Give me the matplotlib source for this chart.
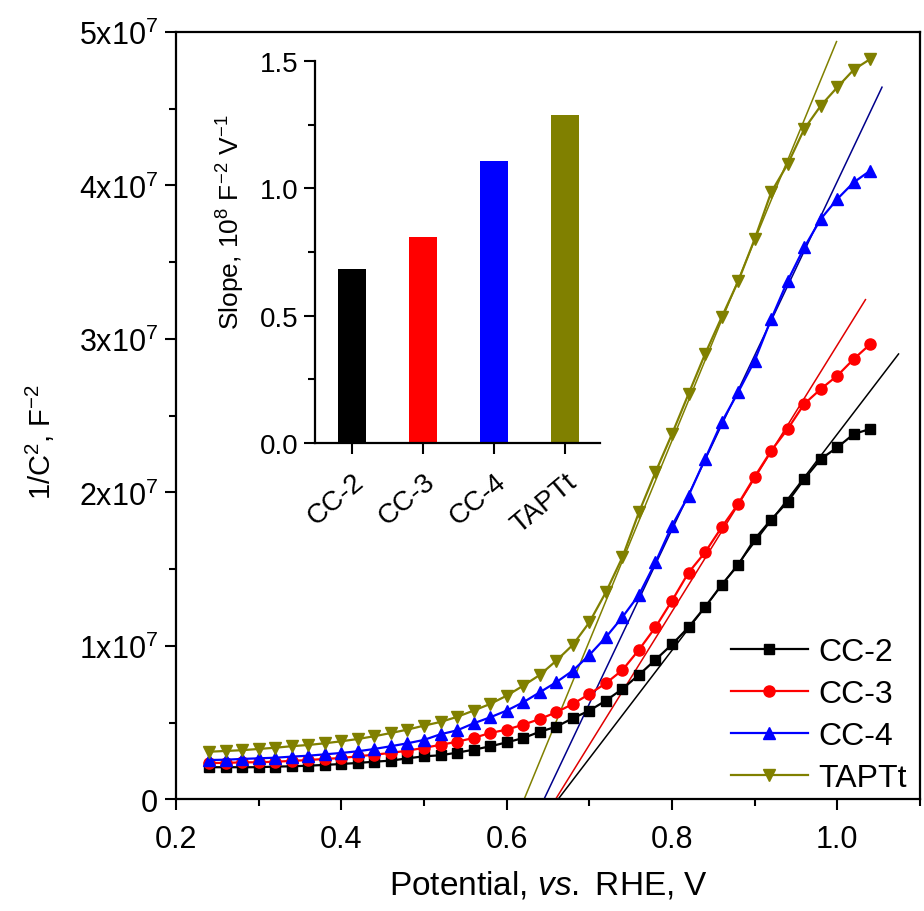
import numpy as np
import matplotlib
matplotlib.use("Agg")
import matplotlib.pyplot as plt
from matplotlib.ticker import MultipleLocator

plt.rcParams['font.family'] = ['Liberation Sans', 'DejaVu Sans']
plt.rcParams['mathtext.fontset'] = 'custom'
plt.rcParams['mathtext.rm'] = 'Liberation Sans'
plt.rcParams['mathtext.it'] = 'Liberation Sans:italic'
plt.rcParams['mathtext.bf'] = 'Liberation Sans:bold'

# ---------------- data ----------------
potential = [0.24, 0.26, 0.28, 0.30, 0.32, 0.34, 0.36, 0.38, 0.40, 0.42,
             0.44, 0.46, 0.48, 0.50, 0.52, 0.54, 0.56, 0.58, 0.60, 0.62,
             0.64, 0.66, 0.68, 0.70, 0.72, 0.74, 0.76, 0.78, 0.80, 0.82,
             0.84, 0.86, 0.88, 0.90, 0.92, 0.94, 0.96, 0.98, 1.00, 1.02, 1.04]

# 1/C^2 in units of 1e7 F^-2
cc2 = [0.210, 0.210, 0.210, 0.210, 0.214, 0.216, 0.220, 0.225, 0.231, 0.238,
       0.246, 0.253, 0.268, 0.281, 0.288, 0.305, 0.324, 0.346, 0.372, 0.400,
       0.441, 0.474, 0.529, 0.579, 0.644, 0.720, 0.812, 0.910, 1.010, 1.122,
       1.254, 1.398, 1.528, 1.697, 1.823, 1.940, 2.088, 2.218, 2.294, 2.381, 2.414]
cc3 = [0.238, 0.238, 0.242, 0.242, 0.246, 0.251, 0.257, 0.264, 0.270, 0.281,
       0.292, 0.303, 0.318, 0.336, 0.356, 0.376, 0.401, 0.433, 0.455, 0.487,
       0.524, 0.568, 0.622, 0.687, 0.757, 0.843, 0.975, 1.122, 1.295, 1.478,
       1.610, 1.773, 1.925, 2.103, 2.272, 2.414, 2.577, 2.674, 2.761, 2.870, 2.967]
cc4 = [0.257, 0.259, 0.264, 0.268, 0.272, 0.279, 0.285, 0.294, 0.303, 0.314,
       0.329, 0.347, 0.366, 0.388, 0.425, 0.450, 0.496, 0.535, 0.579, 0.633,
       0.698, 0.764, 0.839, 0.941, 1.057, 1.188, 1.333, 1.545, 1.784, 1.979,
       2.218, 2.457, 2.653, 2.859, 3.130, 3.380, 3.597, 3.782, 3.912, 4.021, 4.097]
taptt = [0.311, 0.316, 0.321, 0.329, 0.337, 0.347, 0.355, 0.366, 0.379, 0.394,
         0.412, 0.433, 0.455, 0.481, 0.505, 0.538, 0.579, 0.622, 0.676, 0.741,
         0.811, 0.904, 1.007, 1.154, 1.350, 1.578, 1.871, 2.132, 2.381, 2.642,
         2.902, 3.141, 3.375, 3.651, 3.956, 4.140, 4.368, 4.520, 4.640, 4.755, 4.824]

series_names = ['CC-2', 'CC-3', 'CC-4', 'TAPTt']
series_colors = ['#000000', '#ff0000', '#0000ff', '#808000']
series_markers = ['s', 'o', '^', 'v']

# linear Mott-Schottky fits: x-intercept, end x, end y (1e7)
fit_x0 = [0.662, 0.659, 0.645, 0.621]
fit_x1 = [1.074, 1.034, 1.054, 0.999]
fit_y1 = [2.902, 3.256, 4.640, 4.937]
fit_colors = ['#000000', '#e00000', '#00008b', '#808000']

# inset: slopes, 1e8 F^-2 V^-1
slope_values = [0.682, 0.810, 1.106, 1.286]

y_ticks = [0, 1, 2, 3, 4, 5]
y_tick_labels = ['0', r'1x10$^{7}$', r'2x10$^{7}$', r'3x10$^{7}$', r'4x10$^{7}$', r'5x10$^{7}$']
x_ticks = [0.2, 0.4, 0.6, 0.8, 1.0]
x_tick_labels = ['0.2', '0.4', '0.6', '0.8', '1.0']

# ---------------- figure ----------------
fig = plt.figure(figsize=(9.24, 9.12), dpi=100)
ax = fig.add_axes([0.1905, 0.1223, 0.8052, 0.8416])

all_series = [cc2, cc3, cc4, taptt]
for i in range(4):
    ax.plot([fit_x0[i], fit_x1[i]], [0, fit_y1[i]], color=fit_colors[i], lw=1.1, zorder=2)
msizes = [7, 8, 9, 9]
for i, ys in enumerate(all_series):
    ax.plot(potential, ys, color=series_colors[i], marker=series_markers[i],
            ms=msizes[i], lw=1.6, label=series_names[i], zorder=3)

ax.set_xlim(0.2, 1.1)
ax.set_ylim(0, 5)
ax.set_xticks(x_ticks)
ax.set_xticklabels(x_tick_labels)
ax.set_yticks(y_ticks)
ax.set_yticklabels(y_tick_labels)
ax.xaxis.set_minor_locator(MultipleLocator(0.1))
ax.yaxis.set_minor_locator(MultipleLocator(0.5))
ax.tick_params(which='major', direction='out', length=8, width=1.5, labelsize=22, pad=5)
ax.tick_params(axis='x', pad=10)
ax.tick_params(which='minor', direction='out', length=5, width=1.5)
for s in ax.spines.values():
    s.set_linewidth(1.6)

ax.set_xlabel(r'Potential, $\mathit{vs.}$ RHE, V', fontsize=24, labelpad=10)
ax.set_ylabel(r'1/C$^{2}$, F$^{-2}$', fontsize=21)
ax.yaxis.set_label_coords(-0.16, 0.467)

leg = ax.legend(loc='lower right', frameon=False, fontsize=23, handlelength=2.4,
                handletextpad=0.35, labelspacing=0.37, borderaxespad=0.0,
                bbox_to_anchor=(1.0, -0.008))

# ---------------- inset ----------------
axi = fig.add_axes([0.3409, 0.5132, 0.3084, 0.4189])
pos = np.arange(len(series_names))
axi.bar(pos, slope_values, width=0.4, color=series_colors)
axi.set_xlim(-0.52, 3.49)
axi.set_ylim(0, 1.5)
axi.set_xticks(pos)
axi.set_xticklabels(series_names, rotation=40, ha='right', rotation_mode='anchor')
axi.set_yticks([0, 0.5, 1.0, 1.5])
axi.set_yticklabels(['0.0', '0.5', '1.0', '1.5'])
axi.yaxis.set_minor_locator(MultipleLocator(0.25))
axi.tick_params(which='major', direction='out', length=8, width=1.5, labelsize=20, pad=4)
axi.tick_params(which='minor', direction='out', length=5, width=1.5)
axi.tick_params(axis='x', pad=10)
axi.spines['top'].set_visible(False)
axi.spines['right'].set_visible(False)
for s in ['left', 'bottom']:
    axi.spines[s].set_linewidth(1.6)
axi.set_ylabel(r'Slope, 10$^{8}$ F$^{-2}$ V$^{-1}$', fontsize=19)
axi.yaxis.set_label_coords(-0.24, 0.58)
axi.patch.set_alpha(0)

fig.savefig('out.png', dpi=100)
